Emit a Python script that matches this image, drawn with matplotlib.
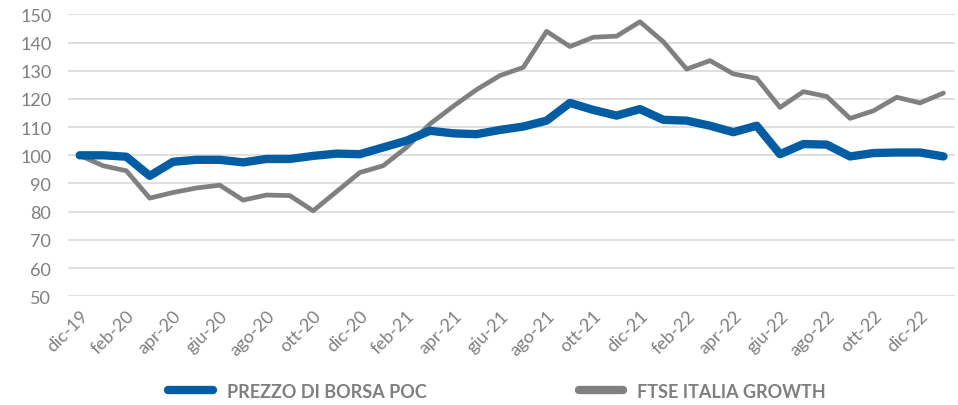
import matplotlib.pyplot as plt

# Monthly series, dic-19 .. gen-23 (base 100)
months = ['dic-19', 'gen-20', 'feb-20', 'mar-20', 'apr-20', 'mag-20', 'giu-20', 'lug-20',
          'ago-20', 'set-20', 'ott-20', 'nov-20', 'dic-20', 'gen-21', 'feb-21', 'mar-21',
          'apr-21', 'mag-21', 'giu-21', 'lug-21', 'ago-21', 'set-21', 'ott-21', 'nov-21',
          'dic-21', 'gen-22', 'feb-22', 'mar-22', 'apr-22', 'mag-22', 'giu-22', 'lug-22',
          'ago-22', 'set-22', 'ott-22', 'nov-22', 'dic-22', 'gen-23']
poc = [100.0, 100.0, 99.5, 92.7, 97.7, 98.4, 98.4, 97.5, 98.7, 98.7,
       99.8, 100.6, 100.4, 102.8, 105.2, 108.7, 107.8, 107.5, 109.0, 110.2,
       112.3, 118.6, 116.1, 114.1, 116.4, 112.6, 112.3, 110.5, 108.2, 110.5,
       100.4, 104.0, 103.8, 99.6, 100.8, 101.0, 101.0, 99.6]
ftse = [100.0, 96.3, 94.5, 84.8, 86.8, 88.4, 89.4, 84.1, 85.9, 85.7,
        80.3, 87.1, 93.9, 96.3, 102.8, 111.1, 117.4, 123.3, 128.3, 131.2,
        144.0, 138.6, 141.9, 142.3, 147.4, 140.3, 130.6, 133.6, 128.9, 127.3,
        117.0, 122.6, 120.9, 113.1, 115.8, 120.6, 118.6, 122.1]

plt.rcParams['font.family'] = ['Lato', 'DejaVu Sans']

fig = plt.figure(figsize=(9.58, 4.06), dpi=100)
ax = fig.add_axes([0.071, 0.268, 0.926, 0.694])

x = list(range(len(months)))
ax.plot(x, poc, color='#005DA4', lw=6, solid_capstyle='round', solid_joinstyle='round',
        label='PREZZO DI BORSA POC', zorder=3)
ax.plot(x, ftse, color='#808080', lw=3.4, solid_capstyle='round', solid_joinstyle='round',
        label='FTSE ITALIA GROWTH', zorder=2)

ax.set_xlim(-0.5, len(months) - 0.5)
ax.set_ylim(50, 150)
ax.set_yticks(range(50, 151, 10))
ax.set_xticks(x[::2])
ax.set_xticklabels(months[::2], rotation=45, ha='right', rotation_mode='anchor')
ax.tick_params(axis='both', length=0, labelsize=13, colors='#7f7f7f')
ax.tick_params(axis='x', pad=8)
ax.tick_params(axis='y', pad=12)
ax.grid(axis='y', color='#d9d9d9', lw=1.2)
ax.set_axisbelow(True)
for s in ax.spines.values():
    s.set_visible(False)

leg = fig.legend(loc='center', bbox_to_anchor=(0.519, 0.034), ncol=2, frameon=False,
                 handlelength=2.45, columnspacing=8.4, handletextpad=0.8,
                 prop={'size': 13, 'weight': 'bold'})
for t in leg.get_texts():
    t.set_color('#7f7f7f')
for h in leg.legend_handles:
    h.set_linewidth(6)

fig.savefig('out.png', dpi=100)
